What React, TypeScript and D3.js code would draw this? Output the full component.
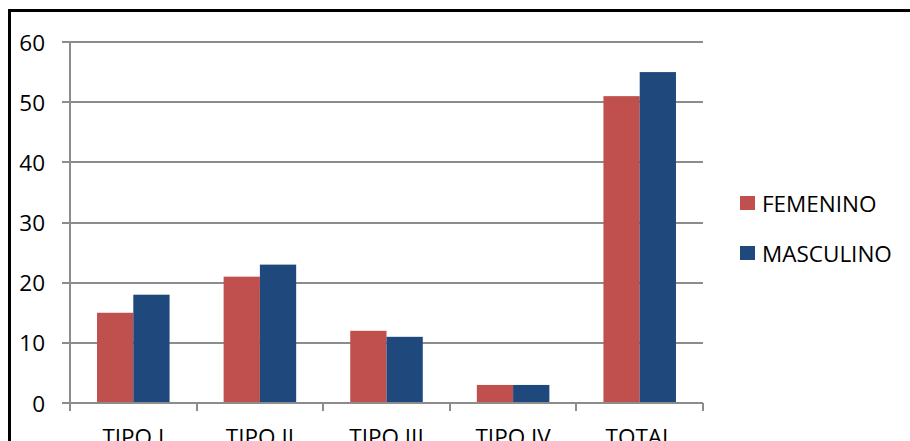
import React from "react";
import * as d3 from "d3";

const categories = ["TIPO I", "TIPO II", "TIPO III", "TIPO IV", "TOTAL"];
const seriesNames = ["FEMENINO", "MASCULINO"];
const femenino = [15, 21, 12, 3, 51];
const masculino = [18, 23, 11, 3, 55];
const yTicks = [0, 10, 20, 30, 40, 50, 60];
const colors = ["#C0504D", "#1F497D"];

const W = 910;
const H = 441;
const FONT = "'Open Sans', 'Noto Sans', sans-serif";
const FS = 22.5;

export default function App() {
  const left = 70;
  const right = 703;
  const top = 42;
  const bottom = 403;

  const x = d3.scaleBand<string>().domain(categories).range([left, right]).paddingInner(0).paddingOuter(0);
  const x1 = d3
    .scaleBand<string>()
    .domain(seriesNames)
    .range([0, x.bandwidth()])
    .paddingInner(0)
    .paddingOuter(0.745);
  const y = d3.scaleLinear().domain([0, 60]).range([bottom, top]);

  const values = [femenino, masculino];
  const grid = "#8c8c8c";

  return (
    <svg
      width={W}
      height={H}
      style={{ position: "absolute", left: 0, top: 0, background: "#fff" }}
    >
      <rect x={0} y={0} width={W} height={H} fill="#fff" />
      {/* outer frame */}
      <path d={`M9.5,${H + 5} V10.5 H${W + 5}`} fill="none" stroke="#000" strokeWidth={3} />

      {/* gridlines and y tick labels */}
      {yTicks.map((t) => (
        <g key={t}>
          <line x1={62} x2={right} y1={Math.round(y(t))} y2={Math.round(y(t))} stroke={grid} strokeWidth={2} />
          <text
            x={45}
            y={y(t)}
            textAnchor="end"
            dominantBaseline="central"
            fontFamily={FONT}
            fontSize={FS}
            fill="#000"
          >
            {t}
          </text>
        </g>
      ))}

      {/* y axis */}
      <line x1={left} x2={left} y1={top} y2={bottom} stroke={grid} strokeWidth={2} />

      {/* category ticks */}
      {categories.map((c, i) => (
        <line
          key={"t" + i}
          x1={Math.round(x(c)!)}
          x2={Math.round(x(c)!)}
          y1={bottom}
          y2={411}
          stroke={grid}
          strokeWidth={2}
        />
      ))}
      <line x1={right} x2={right} y1={bottom} y2={411} stroke={grid} strokeWidth={2} />

      {/* bars */}
      {categories.map((c, i) => (
        <g key={c}>
          {seriesNames.map((s, j) => (
            <rect
              key={s}
              x={x(c)! + x1(s)!}
              y={y(values[j][i])}
              width={x1.bandwidth()}
              height={bottom - y(values[j][i])}
              fill={colors[j]}
            />
          ))}
        </g>
      ))}

      {/* x axis line drawn on top of bar bases */}
      <line x1={62} x2={right} y1={bottom} y2={bottom} stroke={grid} strokeWidth={2} />

      {/* category labels */}
      {categories.map((c) => (
        <text
          key={"l" + c}
          x={x(c)! + x.bandwidth() / 2}
          y={445}
          textAnchor="middle"
          fontFamily={FONT}
          fontSize={FS}
          fill="#000"
        >
          {c}
        </text>
      ))}

      {/* legend */}
      {seriesNames.map((s, j) => (
        <g key={"lg" + s} transform={`translate(740, ${196 + j * 50})`}>
          <rect x={0} y={0} width={15} height={14} fill={colors[j]} />
          <text
            x={22}
            y={7}
            dominantBaseline="central"
            fontFamily={FONT}
            fontSize={FS}
            fill="#000"
          >
            {s}
          </text>
        </g>
      ))}
    </svg>
  );
}
